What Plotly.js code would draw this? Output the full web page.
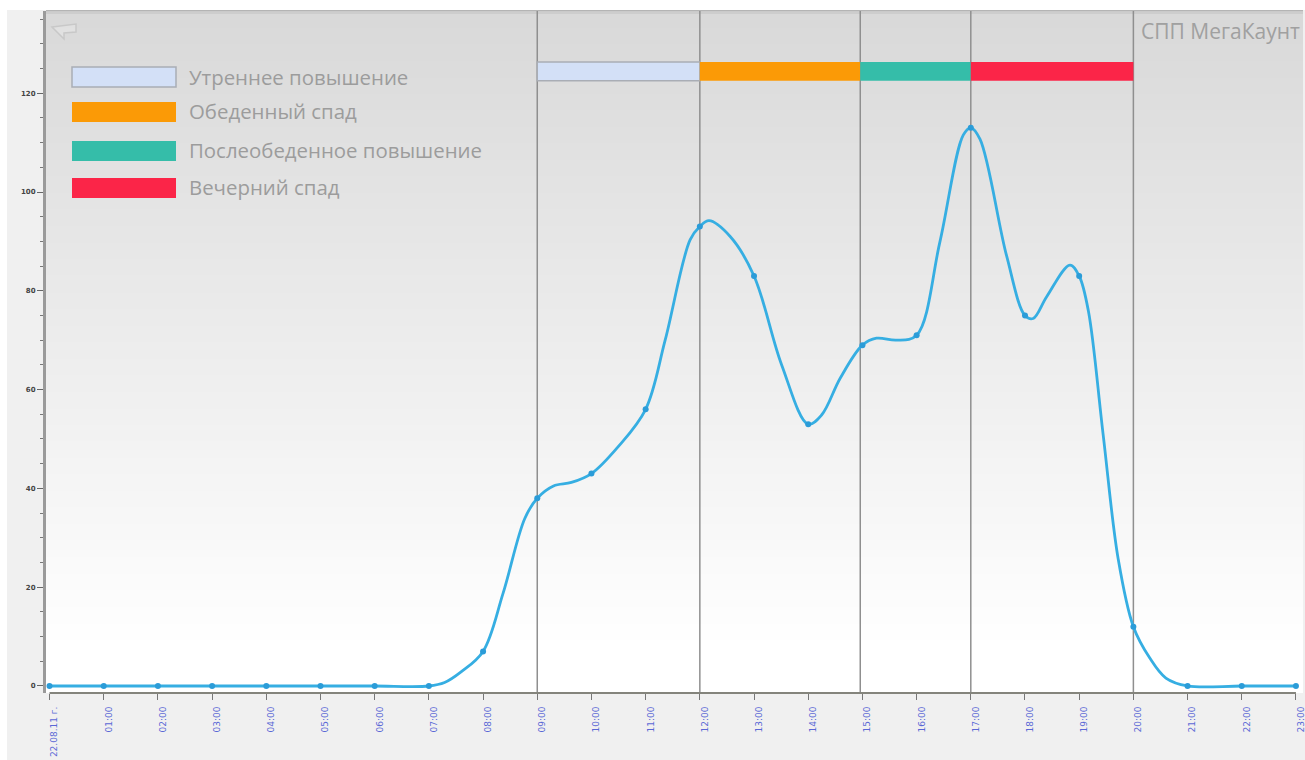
<!DOCTYPE html>
<html>
<head>
<meta charset="utf-8">
<script src="https://cdn.plot.ly/plotly-3.0.1.min.js"></script>
<style>html,body{margin:0;padding:0;background:#fff;overflow:hidden}#chart{width:1305px;height:760px}</style>
</head>
<body>
<div id="chart"></div>
<script>
// Hourly visitor counts for one day
const hours = [0,1,2,3,4,5,6,7,8,9,10,11,12,13,14,15,16,17,18,19,20,21,22,23];
const visitors = [0,0,0,0,0,0,0,0,7,38,43,56,93,83,53,69,71,113,75,83,12,0,0,0];
const tickLabels = ['22.08.11 г.','01:00','02:00','03:00','04:00','05:00','06:00','07:00','08:00','09:00','10:00','11:00',
  '12:00','13:00','14:00','15:00','16:00','17:00','18:00','19:00','20:00','21:00','22:00','23:00'];

// Vertices of the smoothed line between the hourly readings
const lineHours = [0,1,2,3,4,5,6,7,7.29,7.6,8,8.37,8.77,9,9.3,9.63,10,10.49,11,11.36,11.82,12,
  12.17,12.56,13,13.51,14,14.25,14.59,15,15.26,15.63,16,16.43,16.86,17,
  17.17,17.66,18,18.15,18.4,18.83,19,19.17,19.44,19.72,20,
  20.3,20.6,21,22,23];
const lineValues = [0,0,0,0,0,0,0,0,0.7,2.9,7,18.8,33.9,38,40.5,41.2,43,48.4,56,70,90.3,93,
  94.2,91,83,65,53,54.9,62.3,69,70.4,70,71,89.9,111.5,113,
  110.7,87.1,75,74.4,78.8,85.2,83,75.9,51.1,25.7,12,
  5.7,1.6,0,0,0];

// Day phases: name, start and end on the time axis, band colour
const phaseNames = ['Утреннее повышение','Обеденный спад','Послеобеденное повышение','Вечерний спад'];
const phaseStart = [9, 12, 14.96, 17];
const phaseEnd = [12, 14.96, 17, 20];
const phaseColors = ['#d3e0f7','#fb9a06','#35bda9','#fb2548'];
const bandLow = 122.5, bandHigh = 126.3;

const W = 1305, H = 760;
const M = {l: 46, r: 2, t: 11, b: 67};
const plotW = W - M.l - M.r, plotH = H - M.t - M.b;
const px = v => (v - M.l) / plotW;
const py = v => 1 - (v - M.t) / plotH;

const shapes = [];
const rect = (x0, y0, x1, y1, fill, line) => shapes.push({
  type: 'rect', xref: 'paper', yref: 'paper', layer: 'below',
  x0: px(x0), x1: px(x1), y0: py(y0), y1: py(y1),
  fillcolor: fill, line: line || {width: 0}
});

// Page margin, then the plot-area vertical gradient built from one-level steps
rect(7, 10, W, H, '#f0f0f0');
const gradTop = 217, gradLevels = 38, gradEnd = 640;
for (let i = 0; i < gradLevels; i++) {
  const a = M.t + (gradEnd - M.t) * i / gradLevels;
  const b = M.t + (gradEnd - M.t) * (i + 1) / gradLevels;
  const c = gradTop + i;
  rect(M.l, a, W - M.r, b + 1, `rgb(${c},${c},${c})`);
}
rect(M.l, gradEnd, W - M.r, 693, '#ffffff');
rect(M.l, 10, W - M.r, 11.5, '#b4b4b4');
rect(M.l, 11.5, W - M.r, 14, '#cdcdcd');

// Phase boundaries and the band above the curve
const boundaries = [9, 12, 14.96, 17, 20];
boundaries.forEach(b => shapes.push({
  type: 'line', xref: 'x', yref: 'paper', layer: 'below',
  x0: b, x1: b, y0: 0, y1: 1, line: {color: '#8f8f8f', width: 1.5}
}));
phaseNames.forEach((_, i) => shapes.push({
  type: 'rect', xref: 'x', yref: 'y', layer: 'below',
  x0: phaseStart[i], x1: phaseEnd[i], y0: bandLow, y1: bandHigh,
  fillcolor: phaseColors[i],
  line: i === 0 ? {color: '#a9adb5', width: 1.5} : {width: 0}
}));

// Baseline from the first to the last hour
shapes.push({
  type: 'line', xref: 'x', yref: 'paper', layer: 'below',
  x0: 0, x1: 23, y0: 0, y1: 0, line: {color: '#84847c', width: 2}
});

// Legend swatches and labels
const legendRows = [[67, 87], [102, 122], [141, 161], [178, 198]];
const legendTextY = [76.5, 111.5, 150, 187];
const annotations = [];
legendRows.forEach((r, i) => {
  rect(72, r[0], 176, r[1], phaseColors[i], i === 0 ? {color: '#a9adb5', width: 1.5} : {width: 0});
  annotations.push({
    xref: 'paper', yref: 'paper', x: px(186.5), y: py(legendTextY[i]),
    xanchor: 'left', yanchor: 'middle', showarrow: false, text: phaseNames[i],
    font: {family: 'Open Sans', size: 20.4, color: '#9c9c9c'}
  });
});
annotations.push({
  xref: 'paper', yref: 'paper', x: px(1302), y: py(31), xanchor: 'right', yanchor: 'middle',
  showarrow: false, text: 'СПП МегаКаунт',
  font: {family: 'Open Sans', size: 21, color: '#a0a0a0'}
});

// Speech-bubble glyph in the top corner
shapes.push({
  type: 'path', xref: 'paper', yref: 'paper', layer: 'below',
  path: `M${px(52)},${py(27)} L${px(76)},${py(24)} L${px(76)},${py(32)} L${px(64)},${py(33)} L${px(64)},${py(39)} Z`,
  fillcolor: 'rgba(255,255,255,0.2)', line: {color: '#c8c8c8', width: 1.5}
});

const line = {
  x: lineHours, y: lineValues, type: 'scatter', mode: 'lines',
  line: {color: '#36aee2', width: 2.8, shape: 'spline', smoothing: 1},
  cliponaxis: false, hoverinfo: 'skip'
};
const points = {
  x: hours, y: visitors, type: 'scatter', mode: 'markers',
  marker: {color: '#2b9cd8', size: 6},
  cliponaxis: false, hoverinfo: 'x+y'
};

const layout = {
  width: W, height: H, margin: M, showlegend: false,
  paper_bgcolor: '#ffffff', plot_bgcolor: 'rgba(0,0,0,0)',
  xaxis: {
    range: [-0.065, 23.13], showgrid: false, zeroline: false, showline: false,
    tickmode: 'array', tickvals: hours, ticktext: tickLabels, tickangle: -90,
    ticks: 'outside', ticklen: 6, tickwidth: 1, tickcolor: '#777',
    ticklabelstandoff: 3, ticklabelshift: 5, ticklabeloverflow: 'allow',
    tickfont: {family: 'DejaVu Sans', size: 9, color: '#5a68d6'}
  },
  yaxis: {
    range: [-1.42, 136.64], showgrid: false, zeroline: false,
    showline: true, linecolor: '#9a9a9a', linewidth: 3,
    tickmode: 'linear', tick0: 0, dtick: 20,
    ticks: 'outside', ticklen: 6, tickwidth: 1, tickcolor: '#666',
    minor: {dtick: 5, ticks: 'outside', ticklen: 3, tickwidth: 1, tickcolor: '#777'},
    tickfont: {family: 'DejaVu Sans', size: 7, color: '#444', weight: 'bold'}
  },
  shapes, annotations
};

Plotly.newPlot('chart', [line, points], layout, {displayModeBar: false, staticPlot: true});
</script>
</body>
</html>
